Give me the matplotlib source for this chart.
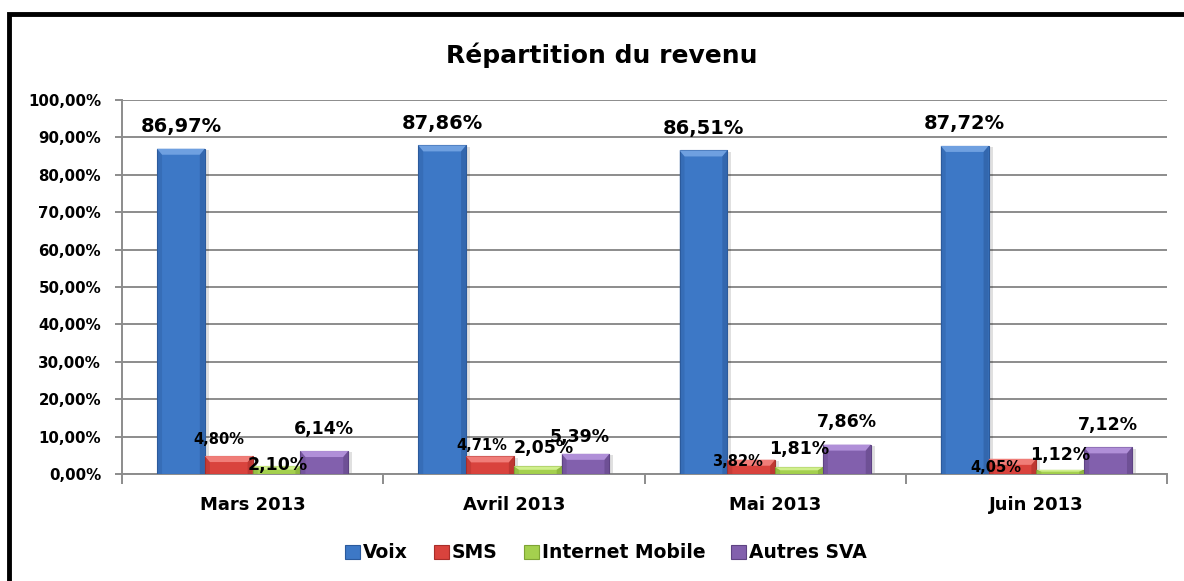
import matplotlib
matplotlib.use("Agg")
import matplotlib.pyplot as plt
from matplotlib.patches import Rectangle, Polygon
from matplotlib.ticker import FuncFormatter, MultipleLocator
import numpy as np

# ---- data ----
categories = ["Mars 2013", "Avril 2013", "Mai 2013", "Juin 2013"]
series_names = ["Voix", "SMS", "Internet Mobile", "Autres SVA"]
voix = [86.97, 87.86, 86.51, 87.72]
sms = [4.80, 4.71, 3.82, 4.05]
internet = [2.10, 2.05, 1.81, 1.12]
autres = [6.14, 5.39, 7.86, 7.12]

# ---- style ----
base_colors = ["#3d78c6", "#d9433d", "#a4d04e", "#8260ad"]
light_colors = ["#6fa0e0", "#f07d78", "#d0ef8c", "#b08fd8"]
dark_colors = ["#2b5a9c", "#a82e2a", "#7ea335", "#5e4383"]
# label style per series: (fontsize, weight)
label_style = [(14, "bold"), (10.5, "bold"), (12.5, "bold"), (12.5, "bold")]
# label vertical offsets in points (relative to bar top), per series per category
label_dy = [
    [16, 16, 16, 16],
    [12, 8, -1, -6],
    [1, 13, 13, 11],
    [16, 12, 16, 16],
]
label_dx = [
    [0, 0, 0, 0],
    [-7, -6, -10, -12],
    [1, 4, 0, 0],
    [0, -4, 0, 0],
]

def fmt_pct(v):
    return ("%.2f" % v).replace(".", ",") + "%"

W, H = 1184, 581
fig = plt.figure(figsize=(W / 100, H / 100), dpi=100)
fig.patch.set_facecolor("white")

ax = fig.add_axes([122 / W, 1 - 474 / H, (1167 - 122) / W, (474 - 100) / H])
ax.set_facecolor("white")

all_series = [voix, sms, internet, autres]
x = np.arange(len(categories))
bw = 0.183
offsets = (np.arange(4) - 1.5) * bw

ax.set_xlim(-0.5, len(categories) - 0.5)
ax.set_ylim(0, 100)

# pixel -> data conversions
px_x = (len(categories)) / (1167 - 122)
px_y = 100 / (474 - 100)

for si, (vals, name) in enumerate(zip(all_series, series_names)):
    xs = x + offsets[si]
    # shadow
    ax.bar(xs + 4 * px_x, vals, bw, bottom=-1.2 * px_y, color="#000000", alpha=0.12,
           linewidth=0, zorder=2)
    ax.bar(xs, vals, bw, color=base_colors[si], edgecolor=dark_colors[si],
           linewidth=0.8, zorder=3, label=name)
    bev_x = 5 * px_x
    bev_y = 6 * px_y
    for xi, v in zip(xs, vals):
        l, r = xi - bw / 2, xi + bw / 2
        by = min(bev_y, v * 0.45)
        bx = min(bev_x, bw * 0.3)
        # top bevel (lighter)
        ax.add_patch(Polygon([(l, v), (r, v), (r - bx, v - by), (l + bx, v - by)],
                             closed=True, facecolor=light_colors[si], edgecolor="none", zorder=4))
        # side bevels (darker)
        ax.add_patch(Polygon([(l, v), (l + bx, v - by), (l + bx, 0), (l, 0)],
                             closed=True, facecolor=dark_colors[si], edgecolor="none", alpha=0.35, zorder=4))
        ax.add_patch(Polygon([(r, v), (r - bx, v - by), (r - bx, 0), (r, 0)],
                             closed=True, facecolor=dark_colors[si], edgecolor="none", alpha=0.55, zorder=4))
    fs, fw = label_style[si]
    for ci, (xi, v) in enumerate(zip(xs, vals)):
        ax.annotate(fmt_pct(v), (xi, v), xytext=(label_dx[si][ci], label_dy[si][ci]),
                    textcoords="offset points", ha="center", va="center",
                    fontsize=fs, fontweight=fw, color="black", zorder=6,
                    family="DejaVu Sans")

# grid / axes
ax.yaxis.set_major_locator(MultipleLocator(10))
ax.yaxis.set_major_formatter(FuncFormatter(lambda v, p: ("%.2f" % v).replace(".", ",") + "%"))
ax.grid(axis="y", color="#8c8c8c", linewidth=1.4, zorder=0)
ax.set_axisbelow(True)
for s in ["top", "right"]:
    ax.spines[s].set_visible(False)
ax.spines["left"].set_color("#8c8c8c")
ax.spines["bottom"].set_color("#8c8c8c")
ax.spines["left"].set_linewidth(1.4)
ax.spines["bottom"].set_linewidth(1.4)

ax.set_xticks(x)
ax.set_xticklabels(categories, fontsize=13, fontweight="bold")
ax.tick_params(axis="x", length=0, pad=16)
ax.set_xticks(np.arange(len(categories) + 1) - 0.5, minor=True)
ax.tick_params(axis="x", which="minor", length=7, width=1.4, color="#8c8c8c", direction="out")
ax.tick_params(axis="y", length=5, width=1.4, color="#8c8c8c", pad=10, labelsize=10.8)
for lab in ax.get_yticklabels():
    lab.set_fontweight("bold")

fig.text(602 / W, 1 - 55 / H, "Répartition du revenu", ha="center", va="center",
         fontsize=18, fontweight="bold")

leg = fig.legend(loc="center", bbox_to_anchor=(606 / W, 1 - 553 / H), ncol=4, frameon=False,
                 prop={"size": 13.5, "weight": "bold"}, handlelength=0.8, handleheight=0.8,
                 handletextpad=0.15, columnspacing=1.4)

# outer black border (extends past right/bottom edges)
fig.patches.append(Rectangle((9 / W, -0.05), 1.1, 1 - 14 / H + 0.05, transform=fig.transFigure,
                             fill=False, edgecolor="black", linewidth=3.5, zorder=10))

fig.savefig("out.png", dpi=100, facecolor="white")
